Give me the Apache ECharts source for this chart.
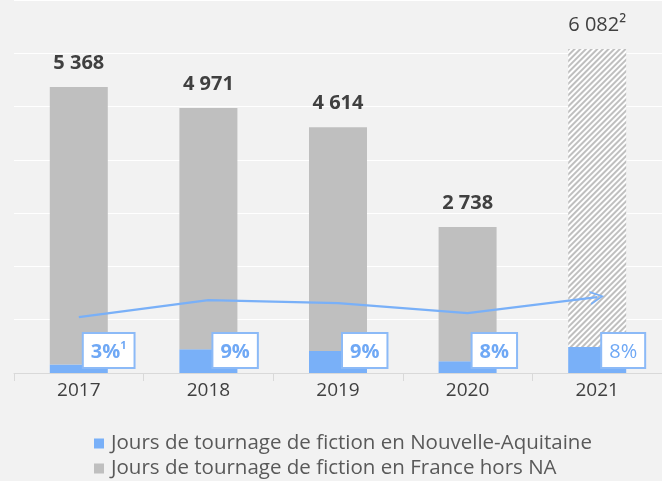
<!DOCTYPE html>
<html>
<head>
<meta charset="utf-8">
<script src="https://cdn.jsdelivr.net/npm/echarts@6/dist/echarts.min.js"></script>
<style>
    html, body { margin: 0; padding: 0; background: #f2f2f2; }
    #myChart { width: 662px; height: 481px; }
</style>
</head>
<body>
<div id="myChart"></div>
<script>
    // données
    const years = ['2017', '2018', '2019', '2020', '2021'];
    const naDays = [161, 447, 415, 219, 487];          // Nouvelle-Aquitaine
    const otherDays = [5207, 4524, 4199, 2519, 5595];  // France hors NA
    const totals = [5368, 4971, 4614, 2738, 6082];
    const shares = ['3%', '9%', '9%', '8%', '8%'];
    const shareNotes = ['1', '', '', '', ''];
    const totalNotes = ['', '', '', '', '²'];
    const trend = [1050, 1369, 1313, 1125, 1425];
    const yTicks = [0, 1000, 2000, 3000, 4000, 5000, 6000, 7000];

    const naName = 'Jours de tournage de fiction en Nouvelle-Aquitaine';
    const otherName = 'Jours de tournage de fiction en France hors NA';

    const blue = '#79b0f8';
    const grey = '#bfbfbf';
    const font = 'Open Sans';

    function fmt(n) {
        return String(n).replace(/\B(?=(\d{3})+(?!\d))/g, ' ');
    }

    let last = years.length - 1;

    let legendBase = {
        orient: 'horizontal',
        left: 89,
        icon: 'rect',
        itemWidth: 10,
        itemHeight: 10,
        textStyle: { fontSize: 20.5, color: '#595959', fontFamily: font, padding: [0, 0, 0, 2] }
    };

    let myChart = echarts.init(document.getElementById('myChart'));
    myChart.setOption({
        backgroundColor: '#f2f2f2',
        textStyle: { fontFamily: font },
        animation: false,
        grid: { left: 14, right: 0, top: 0, bottom: 108 },
        legend: [
            Object.assign({}, legendBase, { top: 428, data: [naName] }),
            Object.assign({}, legendBase, { top: 453, data: [otherName] })
        ],
        xAxis: {
            type: 'category',
            data: years,
            axisLine: { lineStyle: { color: '#d9d9d9', width: 1 } },
            axisTick: { show: true, length: 8, lineStyle: { color: '#d9d9d9' } },
            axisLabel: { fontSize: 19, color: '#404040', margin: 8, fontFamily: font }
        },
        yAxis: {
            type: 'value',
            min: yTicks[0],
            max: yTicks[yTicks.length - 1],
            interval: 1000,
            axisLabel: { show: false },
            axisLine: { show: false },
            axisTick: { show: false },
            splitLine: { lineStyle: { color: '#ffffff', width: 1 } }
        },
        series: [
            {
                name: naName,
                type: 'bar',
                stack: 'total',
                barWidth: 58,
                itemStyle: { color: blue },
                label: {
                    show: true,
                    position: ['50%', '100%'],
                    align: 'left',
                    verticalAlign: 'bottom',
                    offset: [5, -6],
                    color: '#6fa8f5',
                    fontSize: 20,
                    fontWeight: 'bold',
                    lineHeight: 24,
                    backgroundColor: '#ffffff',
                    borderColor: '#8cbaf7',
                    borderWidth: 2,
                    padding: [6, 7, 3, 7],
                    formatter: p => shareNotes[p.dataIndex]
                        ? '{a|' + shares[p.dataIndex] + '}{s|' + shareNotes[p.dataIndex] + '}'
                        : shares[p.dataIndex],
                    rich: {
                        a: { fontSize: 20, fontWeight: 'bold', color: '#6fa8f5', lineHeight: 24, fontFamily: font },
                        s: { fontSize: 11, fontWeight: 'bold', color: '#6fa8f5', verticalAlign: 'top', lineHeight: 24, fontFamily: font }
                    }
                },
                data: naDays.map((v, i) => i === last ? { value: v, label: { fontWeight: 'normal' } } : v)
            },
            {
                name: otherName,
                type: 'bar',
                stack: 'total',
                barWidth: 58,
                itemStyle: { color: grey },
                label: {
                    show: true,
                    position: 'top',
                    distance: 14,
                    fontSize: 20,
                    fontWeight: 'bold',
                    color: '#404040',
                    formatter: p => fmt(totals[p.dataIndex]) + totalNotes[p.dataIndex]
                },
                data: otherDays.map((v, i) => i === last ? {
                    value: v,
                    label: { fontWeight: 'normal' },
                    itemStyle: {
                        color: '#ffffff',
                        decal: {
                            symbol: 'rect',
                            color: grey,
                            dashArrayX: [1, 0],
                            dashArrayY: [2, 2],
                            rotation: -Math.PI / 4
                        }
                    }
                } : v)
            },
            {
                name: 'tendance',
                type: 'line',
                symbol: 'none',
                lineStyle: { color: blue, width: 2.2 },
                itemStyle: { color: blue },
                z: 3,
                data: trend.map((v, i) => i === last ? {
                    value: v,
                    symbol: 'path://M0,0 L10,5 L0,10 L0,8.6 L7.4,5 L0,1.4 Z',
                    symbolSize: 14,
                    symbolKeepAspect: true,
                    symbolRotate: 8
                } : v)
            }
        ]
    });
</script>
</body>
</html>
